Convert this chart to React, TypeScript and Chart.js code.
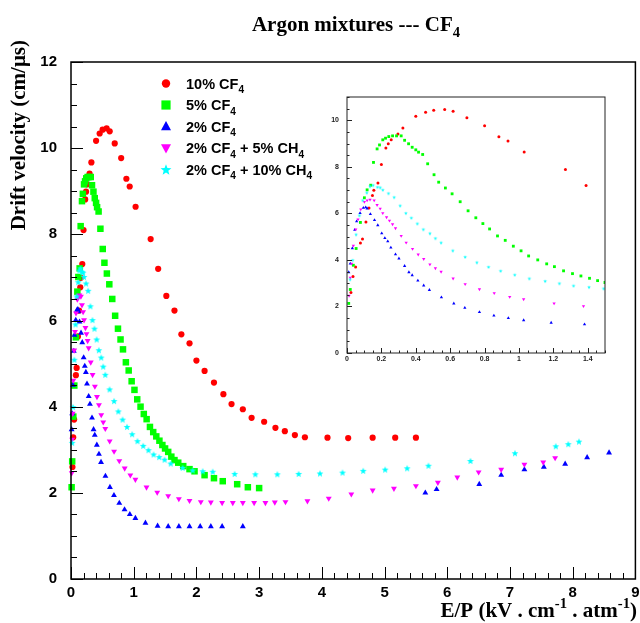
import React, { useEffect, useRef } from 'react';
import { Chart, registerables } from 'chart.js';

Chart.register(...registerables);

// ---------- tick labels ----------
const X_TICKS = [0, 1, 2, 3, 4, 5, 6, 7, 8, 9];
const Y_TICKS = [0, 2, 4, 6, 8, 10, 12];
const INSET_X_TICKS = [0, 0.2, 0.4, 0.6, 0.8, 1, 1.2, 1.4];
const INSET_X_LABELS = ['0', '0.2', '0.4', '0.6', '0.8', '1', '1.2', '1.4'];
const INSET_Y_TICKS = [0, 2, 4, 6, 8, 10];

// ---------- series ----------
const LABELS = ['10% CF4', '5% CF4', '2% CF4', '2% CF4 + 5% CH4', '2% CF4 + 10% CH4'];

const cf10X = [0.023, 0.035, 0.05, 0.078, 0.09, 0.11, 0.128, 0.148, 0.156, 0.18, 0.2, 0.226, 0.24, 0.257, 0.296, 0.325, 0.4, 0.457, 0.504, 0.568, 0.617, 0.697, 0.8, 0.883, 0.936, 1.03, 1.27, 1.39, 1.52, 1.65, 1.76, 1.89, 2.0, 2.13, 2.28, 2.43, 2.56, 2.74, 2.88, 3.08, 3.26, 3.41, 3.57, 3.73, 4.09, 4.42, 4.81, 5.17, 5.5];
const cf10Y = [2.6, 3.29, 3.7, 4.73, 4.9, 5.63, 6.23, 6.77, 6.99, 7.31, 8.1, 8.81, 8.99, 9.16, 9.41, 9.67, 10.17, 10.34, 10.43, 10.46, 10.39, 10.11, 9.77, 9.29, 9.11, 8.64, 7.89, 7.2, 6.57, 6.23, 5.68, 5.47, 5.07, 4.83, 4.56, 4.29, 4.06, 3.94, 3.74, 3.65, 3.51, 3.43, 3.34, 3.29, 3.28, 3.27, 3.28, 3.28, 3.28];

const cf5X = [0.01, 0.019, 0.037, 0.053, 0.078, 0.101, 0.117, 0.138, 0.154, 0.175, 0.189, 0.208, 0.224, 0.243, 0.265, 0.288, 0.315, 0.335, 0.358, 0.379, 0.4, 0.416, 0.44, 0.469, 0.506, 0.533, 0.572, 0.611, 0.658, 0.704, 0.749, 0.79, 0.829, 0.875, 0.92, 0.967, 1.012, 1.056, 1.109, 1.161, 1.206, 1.259, 1.311, 1.36, 1.41, 1.457, 1.5, 1.55, 1.6, 1.65, 1.71, 1.79, 1.89, 1.97, 2.13, 2.28, 2.42, 2.65, 2.82, 3.0];
const cf5Y = [2.13, 2.73, 3.77, 4.49, 5.61, 6.67, 7.01, 7.21, 8.19, 8.77, 8.94, 9.16, 9.23, 9.3, 9.33, 9.33, 9.33, 9.14, 8.99, 8.84, 8.73, 8.63, 8.53, 8.13, 7.66, 7.34, 7.09, 6.84, 6.5, 6.11, 5.81, 5.56, 5.33, 5.03, 4.84, 4.59, 4.39, 4.17, 4.0, 3.83, 3.71, 3.53, 3.41, 3.31, 3.21, 3.11, 3.03, 2.95, 2.84, 2.76, 2.7, 2.62, 2.55, 2.5, 2.41, 2.34, 2.27, 2.2, 2.13, 2.11];

const cf2X = [0.01, 0.019, 0.031, 0.045, 0.056, 0.076, 0.095, 0.109, 0.117, 0.136, 0.16, 0.179, 0.202, 0.22, 0.237, 0.255, 0.282, 0.302, 0.335, 0.36, 0.379, 0.412, 0.446, 0.479, 0.549, 0.621, 0.685, 0.77, 0.854, 0.938, 1.027, 1.187, 1.381, 1.55, 1.72, 1.89, 2.06, 2.23, 2.41, 2.74, 5.65, 5.83, 6.51, 6.86, 7.23, 7.54, 7.88, 8.23, 8.58];
const cf2Y = [3.47, 3.84, 4.5, 5.29, 5.66, 6.01, 6.24, 6.26, 6.21, 5.97, 5.71, 5.49, 5.14, 4.94, 4.8, 4.53, 4.24, 4.06, 3.74, 3.47, 3.34, 3.11, 2.9, 2.71, 2.39, 2.13, 1.94, 1.76, 1.61, 1.5, 1.41, 1.3, 1.23, 1.22, 1.22, 1.22, 1.22, 1.22, 1.22, 1.22, 2.0, 2.08, 2.2, 2.41, 2.54, 2.6, 2.67, 2.82, 2.93];

const ch5X = [0.012, 0.019, 0.027, 0.037, 0.051, 0.064, 0.08, 0.101, 0.117, 0.134, 0.158, 0.175, 0.193, 0.208, 0.23, 0.247, 0.265, 0.282, 0.315, 0.344, 0.381, 0.414, 0.446, 0.482, 0.514, 0.547, 0.617, 0.687, 0.77, 0.856, 0.946, 1.027, 1.204, 1.375, 1.55, 1.72, 1.89, 2.07, 2.23, 2.41, 2.58, 2.74, 2.92, 3.1, 3.25, 3.42, 3.77, 4.11, 4.47, 4.81, 5.15, 5.5, 5.85, 6.16, 6.5, 6.86, 7.23, 7.53, 7.72];
const ch5Y = [2.46, 3.24, 3.84, 4.61, 5.31, 5.74, 6.17, 6.49, 6.56, 6.59, 6.56, 6.36, 6.2, 6.01, 5.83, 5.69, 5.53, 5.36, 5.03, 4.74, 4.47, 4.23, 4.04, 3.81, 3.64, 3.49, 3.2, 2.96, 2.74, 2.57, 2.41, 2.31, 2.13, 2.01, 1.93, 1.86, 1.82, 1.79, 1.78, 1.77, 1.77, 1.77, 1.77, 1.77, 1.78, 1.79, 1.81, 1.87, 1.97, 2.06, 2.1, 2.16, 2.24, 2.36, 2.48, 2.54, 2.66, 2.71, 2.81];

const ch10X = [0.018, 0.033, 0.053, 0.072, 0.091, 0.115, 0.134, 0.152, 0.177, 0.193, 0.208, 0.241, 0.274, 0.309, 0.342, 0.374, 0.409, 0.444, 0.482, 0.514, 0.547, 0.615, 0.687, 0.755, 0.823, 0.893, 0.975, 1.06, 1.152, 1.235, 1.317, 1.407, 1.492, 1.59, 1.78, 1.94, 2.1, 2.26, 2.61, 2.94, 3.29, 3.63, 3.97, 4.33, 4.66, 5.01, 5.36, 5.7, 6.37, 7.08, 7.73, 7.93, 8.1];
const ch10Y = [3.16, 3.99, 5.09, 5.91, 6.56, 6.89, 7.16, 7.21, 7.13, 7.11, 7.01, 6.86, 6.69, 6.33, 6.01, 5.81, 5.56, 5.31, 5.14, 4.93, 4.74, 4.4, 4.13, 3.89, 3.7, 3.53, 3.36, 3.2, 3.09, 2.99, 2.89, 2.83, 2.77, 2.68, 2.58, 2.52, 2.5, 2.49, 2.44, 2.43, 2.43, 2.44, 2.45, 2.47, 2.51, 2.54, 2.57, 2.63, 2.74, 2.92, 3.08, 3.13, 3.19];

const SERIES_X = [cf10X, cf5X, cf2X, ch5X, ch10X];
const SERIES_Y = [cf10Y, cf5Y, cf2Y, ch5Y, ch10Y];
const COLORS = ['#ff0000', '#00ff00', '#0000ff', '#ff00ff', '#00ffff'];
const STYLES = ['circle', 'rect', 'triangle', 'down', 'star'];

// ---------- helpers ----------
type Seg = [string, number]; // 0 normal, 1 subscript, -1 superscript

const LEGEND_SEGS: Seg[][] = [
  [['10% CF', 0], ['4', 1]],
  [['5% CF', 0], ['4', 1]],
  [['2% CF', 0], ['4', 1]],
  [['2% CF', 0], ['4', 1], [' + 5% CH', 0], ['4', 1]],
  [['2% CF', 0], ['4', 1], [' + 10% CH', 0], ['4', 1]],
];
const TITLE_SEGS: Seg[] = [['Argon mixtures --- CF', 0], ['4', 1]];
const XTITLE_SEGS: Seg[] = [['E/P (kV . cm', 0], ['-1', -1], [' . atm', 0], ['-1', -1], [')', 0]];
const YTITLE_SEGS: Seg[] = [['Drift velocity (cm/\u03bcs)', 0]];

function segFont(kind: number, size: number, fam: string) {
  const s = kind === 0 ? size : size * 0.7;
  return `bold ${s}px ${fam}`;
}
function richWidth(ctx: CanvasRenderingContext2D, segs: Seg[], size: number, fam: string) {
  let w = 0;
  for (const [t, k] of segs) {
    ctx.font = segFont(k, size, fam);
    w += ctx.measureText(t).width;
  }
  return w;
}
function drawRich(ctx: CanvasRenderingContext2D, segs: Seg[], x: number, y: number, size: number, fam: string, align: string) {
  const w = richWidth(ctx, segs, size, fam);
  let cx = align === 'right' ? x - w : align === 'center' ? x - w / 2 : x;
  ctx.textAlign = 'left';
  ctx.textBaseline = 'alphabetic';
  for (const [t, k] of segs) {
    ctx.font = segFont(k, size, fam);
    const dy = k === 1 ? size * 0.3 : k === -1 ? -size * 0.42 : 0;
    ctx.fillText(t, cx, y + dy);
    cx += ctx.measureText(t).width;
  }
}

function makeStar(R: number, color: string) {
  const c = document.createElement('canvas');
  const s = Math.ceil(R * 2 + 2);
  c.width = s;
  c.height = s;
  const g = c.getContext('2d')!;
  drawStar(g, s / 2, s / 2 + R * 0.08, R, color);
  return c;
}
function drawStar(g: CanvasRenderingContext2D, cx: number, cy: number, R: number, color: string) {
  const r = R * 0.42;
  g.beginPath();
  for (let i = 0; i < 10; i++) {
    const a = -Math.PI / 2 + (i * Math.PI) / 5;
    const rr = i % 2 === 0 ? R : r;
    const px = cx + rr * Math.cos(a);
    const py = cy + rr * Math.sin(a);
    if (i === 0) g.moveTo(px, py);
    else g.lineTo(px, py);
  }
  g.closePath();
  g.fillStyle = color;
  g.fill();
}

function drawMarker(ctx: CanvasRenderingContext2D, style: string, x: number, y: number, s: number, color: string) {
  ctx.fillStyle = color;
  ctx.beginPath();
  if (style === 'circle') {
    ctx.arc(x, y, s, 0, Math.PI * 2);
  } else if (style === 'rect') {
    ctx.rect(x - s, y - s, 2 * s, 2 * s);
  } else if (style === 'triangle') {
    ctx.moveTo(x, y - s * 1.1);
    ctx.lineTo(x + s, y + s * 0.75);
    ctx.lineTo(x - s, y + s * 0.75);
    ctx.closePath();
  } else if (style === 'down') {
    ctx.moveTo(x, y + s * 1.1);
    ctx.lineTo(x + s, y - s * 0.75);
    ctx.lineTo(x - s, y - s * 0.75);
    ctx.closePath();
  } else {
    drawStar(ctx, x, y + 0.5, s * 1.15, color);
    return;
  }
  ctx.fill();
}

function drawTicks(chart: any, xStep: number, xN: number, xMajEvery: number, yStep: number, yN: number, yMajEvery: number, majLen: number, minLen: number, lw: number, color: string) {
  const ctx: CanvasRenderingContext2D = chart.ctx;
  const { left, right, top, bottom } = chart.chartArea;
  const xs = chart.scales.x;
  const ys = chart.scales.y;
  ctx.save();
  ctx.strokeStyle = color;
  ctx.lineWidth = 1;
  ctx.beginPath();
  for (let i = 0; i <= xN; i++) {
    const px = Math.round(xs.getPixelForValue(i * xStep)) + 0.5;
    const len = i % xMajEvery === 0 ? majLen : minLen;
    ctx.moveTo(px, bottom);
    ctx.lineTo(px, bottom - len);
  }
  for (let i = 0; i <= yN; i++) {
    const py = Math.round(ys.getPixelForValue(i * yStep)) + 0.5;
    const len = i % yMajEvery === 0 ? majLen : minLen;
    ctx.moveTo(left, py);
    ctx.lineTo(left + len, py);
  }
  ctx.stroke();
  ctx.lineWidth = lw;
  ctx.strokeRect(left, top, right - left, bottom - top);
  ctx.restore();
}

const SERIF = "'Liberation Serif', 'Times New Roman', serif";
const SANS = "'Liberation Sans', Arial, sans-serif";

export default function App() {
  const mainRef = useRef<HTMLCanvasElement>(null);
  const insetRef = useRef<HTMLCanvasElement>(null);

  useEffect(() => {
    const starBig = makeStar(3.6, COLORS[4]);
    const starSmall = makeStar(1.9, COLORS[4]);

    const mkDatasets = (inset: boolean) =>
      SERIES_X.map((xs, k) => {
        const st = STYLES[k];
        const r = inset
          ? st === 'circle' ? 1.5 : st === 'rect' ? 2.0 : 1.9
          : st === 'circle' ? 3.1 : st === 'rect' ? 4.6 : 3.4;
        return {
          label: LABELS[k],
          data: xs.map((x, i) => ({ x, y: SERIES_Y[k][i] })),
          pointStyle: st === 'star' ? (inset ? starSmall : starBig) : st === 'down' ? 'triangle' : st,
          rotation: st === 'down' ? 180 : 0,
          pointRadius: r,
          pointHoverRadius: r,
          backgroundColor: COLORS[k],
          borderColor: COLORS[k],
          borderWidth: 0,
          pointBorderWidth: 0,
          showLine: false,
          order: -k,
          clip: inset ? 0 : false,
        };
      });

    const mainDecor = {
      id: 'mainDecor',
      afterDraw(chart: any) {
        const ctx: CanvasRenderingContext2D = chart.ctx;
        drawTicks(chart, 0.2, 45, 5, 0.5, 24, 4, 12, 6, 1.5, '#000');
        ctx.save();
        ctx.fillStyle = '#000';
        drawRich(ctx, TITLE_SEGS, 356, 31, 21, SERIF, 'center');
        drawRich(ctx, XTITLE_SEGS, 637, 617, 21, SERIF, 'right');
        ctx.save();
        ctx.translate(25, 40);
        ctx.rotate(-Math.PI / 2);
        drawRich(ctx, YTITLE_SEGS, 0, 0, 21, SERIF, 'right');
        ctx.restore();
        const rows = [83.5, 105, 126.5, 148, 169.5];
        rows.forEach((ry, k) => {
          const st = STYLES[k];
          const s = st === 'circle' ? 4.2 : st === 'rect' ? 4.6 : 5;
          drawMarker(ctx, st, 166, ry, s, COLORS[k]);
          ctx.fillStyle = '#000';
          drawRich(ctx, LEGEND_SEGS[k], 186, ry + 5.2, 14.5, SANS, 'left');
        });
        ctx.restore();
      },
    };

    const main = new Chart(mainRef.current!, {
      type: 'scatter',
      data: { datasets: mkDatasets(false) as any },
      plugins: [mainDecor],
      options: {
        animation: false,
        responsive: false,
        maintainAspectRatio: false,
        devicePixelRatio: 1,
        layout: { padding: { left: 0, top: 62, right: 2, bottom: 0 } },
        plugins: { legend: { display: false }, title: { display: false }, tooltip: { enabled: false } },
        events: [],
        scales: {
          x: {
            type: 'linear',
            min: 0,
            max: 9,
            afterBuildTicks: (s: any) => { s.ticks = X_TICKS.map((v) => ({ value: v })); },
            afterFit: (s: any) => { s.height = 44; s.paddingLeft = 0; s.paddingRight = 0; },
            ticks: { autoSkip: false, maxRotation: 0, padding: 5, color: '#000', font: { family: SANS, size: 15, weight: 'bold' }, callback: (v: any) => String(v) },
            grid: { display: false, drawTicks: false },
            border: { display: false },
          },
          y: {
            type: 'linear',
            min: 0,
            max: 12,
            afterBuildTicks: (s: any) => { s.ticks = Y_TICKS.map((v) => ({ value: v })); },
            afterFit: (s: any) => { s.width = 71; s.paddingTop = 0; s.paddingBottom = 0; },
            ticks: { autoSkip: false, padding: 14, color: '#000', font: { family: SANS, size: 15, weight: 'bold' }, callback: (v: any) => String(v) },
            grid: { display: false, drawTicks: false },
            border: { display: false },
          },
        },
      } as any,
    });

    const insetDecor = {
      id: 'insetDecor',
      beforeDraw(chart: any) {
        const { left, right, top, bottom } = chart.chartArea;
        const ctx = chart.ctx;
        ctx.save();
        ctx.fillStyle = '#fff';
        ctx.fillRect(left, top, right - left, bottom - top);
        ctx.restore();
      },
      afterDraw(chart: any) {
        drawTicks(chart, 0.05, 30, 4, 0.5, 22, 4, 5, 2.5, 1, '#222');
      },
    };

    const inset = new Chart(insetRef.current!, {
      type: 'scatter',
      data: { datasets: mkDatasets(true) as any },
      plugins: [insetDecor],
      options: {
        animation: false,
        responsive: false,
        maintainAspectRatio: false,
        devicePixelRatio: 1,
        layout: { padding: { left: 0, top: 11, right: 13, bottom: 0 } },
        plugins: { legend: { display: false }, title: { display: false }, tooltip: { enabled: false } },
        events: [],
        scales: {
          x: {
            type: 'linear',
            min: 0,
            max: 1.5,
            afterBuildTicks: (s: any) => { s.ticks = INSET_X_TICKS.map((v) => ({ value: v })); },
            afterFit: (s: any) => { s.height = 23; s.paddingLeft = 0; s.paddingRight = 0; },
            ticks: { autoSkip: false, maxRotation: 0, padding: 2, color: '#222', font: { family: SANS, size: 7, weight: 'bold' }, callback: (_v: any, i: number) => INSET_X_LABELS[i] },
            grid: { display: false, drawTicks: false },
            border: { display: false },
          },
          y: {
            type: 'linear',
            min: 0,
            max: 11,
            afterBuildTicks: (s: any) => { s.ticks = INSET_Y_TICKS.map((v) => ({ value: v })); },
            afterFit: (s: any) => { s.width = 29; s.paddingTop = 0; s.paddingBottom = 0; },
            ticks: { autoSkip: false, padding: 8, color: '#222', font: { family: SANS, size: 7, weight: 'bold' }, callback: (v: any) => String(v) },
            grid: { display: false, drawTicks: false },
            border: { display: false },
          },
        },
      } as any,
    });

    return () => {
      main.destroy();
      inset.destroy();
    };
  }, []);

  return (
    <div style={{ position: 'absolute', left: 0, top: 0, width: 640, height: 623, background: '#fff' }}>
      <canvas ref={mainRef} width={640} height={623} style={{ position: 'absolute', left: 0, top: 0, width: 640, height: 623 }} />
      <canvas ref={insetRef} width={300} height={290} style={{ position: 'absolute', left: 318, top: 86, width: 300, height: 290 }} />
    </div>
  );
}
